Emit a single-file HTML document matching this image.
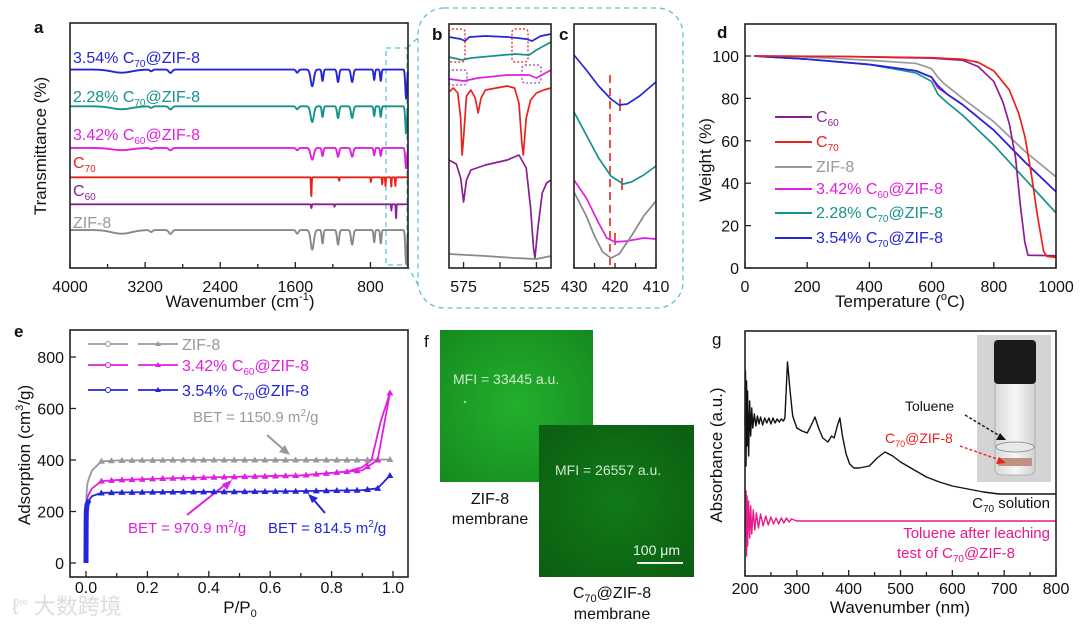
<!DOCTYPE html>
<html><head><meta charset="utf-8"><style>
html,body{margin:0;padding:0;background:#fff}
svg{display:block;font-family:"Liberation Sans","Noto Sans CJK SC",sans-serif}
</style></head><body>
<svg id="fig" width="1080" height="627" viewBox="0 0 1080 627" xmlns="http://www.w3.org/2000/svg">
<defs>
<radialGradient id="g1" cx="0.5" cy="0.5" r="0.7"><stop offset="0" stop-color="#22b02c"/><stop offset="1" stop-color="#168a1f"/></radialGradient>
<radialGradient id="g2" cx="0.5" cy="0.5" r="0.7"><stop offset="0" stop-color="#117a18"/><stop offset="1" stop-color="#0b5e11"/></radialGradient>
<linearGradient id="vial" x1="0" x2="1"><stop offset="0" stop-color="#d8d8d8"/><stop offset="0.5" stop-color="#f6f6f6"/><stop offset="1" stop-color="#d2d2d2"/></linearGradient>
</defs>
<g font-size="16" fill="#111">
<text x="34" y="33" font-size="17" font-weight="bold">a</text>
<text x="432" y="40" font-size="17" font-weight="bold">b</text>
<text x="559" y="40" font-size="17" font-weight="bold">c</text>
<text x="717" y="38" font-size="17" font-weight="bold">d</text>
<text x="14" y="337" font-size="17" font-weight="bold">e</text>
<text x="424" y="347" font-size="17">f</text>
<text x="712" y="345" font-size="17">g</text>
</g>
<g font-size="17" fill="#111" text-anchor="middle">
<text transform="translate(46,146) rotate(-90)">Transmittance (%)</text>
<text x="240" y="307">Wavenumber (cm<tspan font-size="11" dy="-7">-1</tspan><tspan dy="7">)</tspan></text>
<text transform="translate(711,160) rotate(-90)">Weight (%)</text>
<text x="900" y="307">Temperature (<tspan font-size="11" dy="-7">o</tspan><tspan dy="7">C)</tspan></text>
<text transform="translate(30,455) rotate(-90)">Adsorption (cm<tspan font-size="11" dy="-7">3</tspan><tspan dy="7">/g)</tspan></text>
<text x="240" y="613">P/P<tspan font-size="11" dy="4">0</tspan></text>
<text transform="translate(722,455) rotate(-90)">Absorbance (a.u.)</text>
<text x="900" y="613">Wavenumber (nm)</text>
</g>
<g font-size="16">
<text x="73" y="63" fill="#2424d8">3.54% C<tspan font-size="10" dy="4">70</tspan><tspan dy="-4">@ZIF-8</tspan></text>
<text x="73" y="102" fill="#15928c">2.28% C<tspan font-size="10" dy="4">70</tspan><tspan dy="-4">@ZIF-8</tspan></text>
<text x="73" y="140" fill="#e020e0">3.42% C<tspan font-size="10" dy="4">60</tspan><tspan dy="-4">@ZIF-8</tspan></text>
<text x="73" y="168" fill="#e8231e">C<tspan font-size="10" dy="4">70</tspan></text>
<text x="73" y="196" fill="#8a1f94">C<tspan font-size="10" dy="4">60</tspan></text>
<text x="73" y="228" fill="#999">ZIF-8</text>
</g>
<g fill="none" stroke="#5cc3cb" stroke-width="1.3" stroke-dasharray="5,4">
<rect x="386" y="48" width="21" height="217"/>
<rect x="418" y="8" width="265" height="300" rx="26"/>
<line x1="407" y1="48" x2="420" y2="36"/>
<line x1="407" y1="265" x2="420" y2="288"/>
</g>
<g fill="none" stroke-width="1.3" stroke-dasharray="2,2">
<rect x="449" y="29" width="16" height="33" rx="3" stroke="#e8231e"/>
<rect x="512" y="29" width="16" height="33" rx="3" stroke="#e8231e"/>
<rect x="449" y="70" width="18" height="15" rx="3" stroke="#a040a8"/>
<rect x="522" y="65" width="19" height="18" rx="3" stroke="#a040a8"/>
</g>
<line x1="610" y1="75" x2="610" y2="268" stroke="#e8231e" stroke-width="1.6" stroke-dasharray="8,5"/>
<g stroke="#e8231e" stroke-width="1.6">
<line x1="620" y1="99" x2="620" y2="111"/>
<line x1="622" y1="178" x2="622" y2="190"/>
<line x1="615" y1="233" x2="615" y2="245"/>
</g>
<g font-size="16">
<line x1="775" y1="117" x2="812" y2="117" stroke="#8a1f94" stroke-width="2"/><text x="816" y="122" fill="#8a1f94">C<tspan font-size="10" dy="4">60</tspan></text>
<line x1="775" y1="142" x2="812" y2="142" stroke="#e8231e" stroke-width="2"/><text x="816" y="147" fill="#e8231e">C<tspan font-size="10" dy="4">70</tspan></text>
<line x1="775" y1="167" x2="812" y2="167" stroke="#999" stroke-width="2"/><text x="816" y="172" fill="#999">ZIF-8</text>
<line x1="775" y1="189" x2="812" y2="189" stroke="#e020e0" stroke-width="2"/><text x="816" y="194" fill="#e020e0">3.42% C<tspan font-size="10" dy="4">60</tspan><tspan dy="-4">@ZIF-8</tspan></text>
<line x1="775" y1="213" x2="812" y2="213" stroke="#15928c" stroke-width="2"/><text x="816" y="218" fill="#15928c">2.28% C<tspan font-size="10" dy="4">70</tspan><tspan dy="-4">@ZIF-8</tspan></text>
<line x1="775" y1="238" x2="812" y2="238" stroke="#2424d8" stroke-width="2"/><text x="816" y="243" fill="#2424d8">3.54% C<tspan font-size="10" dy="4">70</tspan><tspan dy="-4">@ZIF-8</tspan></text>
</g>
<g font-size="16">
<line x1="88" y1="344" x2="178" y2="344" stroke="#999" stroke-width="1.8" stroke-dasharray="40,10"/><circle cx="108" cy="344" r="2.5" fill="#fff" stroke="#999"/><path d="M158 341 l3 5 h-6z" fill="#999"/><text x="182" y="350" fill="#999">ZIF-8</text>
<line x1="88" y1="365" x2="178" y2="365" stroke="#e020e0" stroke-width="1.8" stroke-dasharray="40,10"/><circle cx="108" cy="365" r="2.5" fill="#fff" stroke="#e020e0"/><path d="M158 362 l3 5 h-6z" fill="#e020e0"/><text x="182" y="371" fill="#e020e0">3.42% C<tspan font-size="10" dy="4">60</tspan><tspan dy="-4">@ZIF-8</tspan></text>
<line x1="88" y1="390" x2="178" y2="390" stroke="#2424d8" stroke-width="1.8" stroke-dasharray="40,10"/><circle cx="108" cy="390" r="2.5" fill="#fff" stroke="#2424d8"/><path d="M158 387 l3 5 h-6z" fill="#2424d8"/><text x="182" y="396" fill="#2424d8">3.54% C<tspan font-size="10" dy="4">70</tspan><tspan dy="-4">@ZIF-8</tspan></text>
</g>
<g font-size="15">
<text x="193" y="422" fill="#999">BET = 1150.9 m<tspan font-size="10" dy="-6">2</tspan><tspan dy="6">/g</tspan></text>
<text x="128" y="533" fill="#e020e0">BET = 970.9 m<tspan font-size="10" dy="-6">2</tspan><tspan dy="6">/g</tspan></text>
<text x="268" y="533" fill="#2424d8">BET = 814.5 m<tspan font-size="10" dy="-6">2</tspan><tspan dy="6">/g</tspan></text>
</g>
<g stroke-width="2">
<line x1="267" y1="435" x2="284" y2="450" stroke="#999"/><path d="M290 455 l-11 -3 l6 -7z" fill="#999"/>
<line x1="187" y1="515" x2="226" y2="484" stroke="#e020e0"/><path d="M232 480 l-5 10 l-5 -6z" fill="#e020e0"/>
<line x1="325" y1="513" x2="313" y2="499" stroke="#2424d8"/><path d="M308 494 l10 4 l-6 5z" fill="#2424d8"/>
</g>
<rect x="440" y="330" width="153" height="152" fill="url(#g1)"/>
<circle cx="465" cy="402" r="1.2" fill="#6f6"/>
<text x="453" y="384" font-size="14" fill="#cfe9cf">MFI = 33445 a.u.</text>
<rect x="539" y="425" width="155" height="152" fill="url(#g2)"/>
<text x="555" y="475" font-size="14" fill="#cfe9cf">MFI = 26557 a.u.</text>
<text x="633" y="555" font-size="14" fill="#e8f4e8">100 μm</text>
<line x1="637" y1="563" x2="683" y2="563" stroke="#eee" stroke-width="2"/>
<g font-size="16" fill="#111" text-anchor="middle">
<text x="490" y="504">ZIF-8</text>
<text x="490" y="524">membrane</text>
<text x="612" y="598">C<tspan font-size="11" dy="4">70</tspan><tspan dy="-4">@ZIF-8</tspan></text>
<text x="612" y="619">membrane</text>
</g>
<g>
<rect x="977" y="335" width="74" height="147" fill="#d4d4d4"/>
<rect x="995" y="345" width="40" height="130" rx="6" fill="url(#vial)" stroke="#b0b0b0"/>
<rect x="994" y="340" width="42" height="44" rx="4" fill="#1a1a1a"/>
<ellipse cx="1015" cy="447" rx="19" ry="5" fill="#e8e8e8" stroke="#999"/>
<rect x="998" y="458" width="34" height="8" fill="#c09080"/>
</g>
<text x="905" y="411" font-size="14" fill="#111">Toluene</text>
<text x="885" y="443" font-size="14" fill="#e8231e">C<tspan font-size="9" dy="4">70</tspan><tspan dy="-4">@ZIF-8</tspan></text>
<line x1="965" y1="415" x2="1000" y2="436" stroke="#111" stroke-width="1.4" stroke-dasharray="3,2"/><path d="M1006 440 l-10 0 l4 -7z" fill="#111"/>
<line x1="960" y1="446" x2="1000" y2="460" stroke="#e8231e" stroke-width="1.4" stroke-dasharray="3,2"/><path d="M1006 463 l-10 1 l3 -7z" fill="#e8231e"/>
<text x="1050" y="508" font-size="15" fill="#111" text-anchor="end">C<tspan font-size="10" dy="4">70</tspan><tspan dy="-4"> solution</tspan></text>
<text x="1050" y="538" font-size="15" fill="#e8198a" text-anchor="end">Toluene after leaching</text>
<text x="1015" y="558" font-size="15" fill="#e8198a" text-anchor="end">test of C<tspan font-size="10" dy="4">70</tspan><tspan dy="-4">@ZIF-8</tspan></text>
<text x="12" y="614" font-size="22" fill="#ddd">ℓ<tspan font-size="12" dy="-8">∞</tspan><tspan dy="8"> 大数跨境</tspan></text>
<g id="plots"></g>
</svg>
<script>
const aSeriesNames=['3.54% C70@ZIF-8','2.28% C70@ZIF-8','3.42% C60@ZIF-8','C70','C60','ZIF-8'];
const aBaselines=[81,66,49,37,26,15.5];
const zifPeaks=[[3450,1.5,150],[3135,0.8,20],[2930,1.6,25],[1580,1.5,18],[1420,8,24],[1310,5.5,12],[1145,6,15],[995,6,17],[760,5,10],[690,5.5,10],[420,14,12]];
const c70Peaks=[[1430,8,5],[1133,1.5,4],[795,2,4],[675,3,4],[640,3.5,4],[578,4,4],[535,3.5,4]];
const c60Peaks=[[1429,1.5,5],[1183,1,4],[577,2.5,4],[527,6,4]];
const aZifScale=[0.85,0.8,0.6,0,0,1];
const aTicks=[4000,3200,2400,1600,800];
const aMinor=[3600,2800,2000,1200];
const bBlue=[[585,231],[577,229],[574,227],[571,231],[560,232],[545,231],[532,229],[528,227],[522,232],[515,234]];
const bTeal=[[585,211],[576,208],[570,210],[555,212],[540,214],[530,213],[525,218],[515,226]];
const bMag=[[585,189],[575,187],[565,190],[545,193],[530,193],[525,190],[515,198]];
const bRed=[[585,176],[582,180],[579,175],[577,150],[576,113],[575,130],[573,172],[570,178],[567,170],[565,155],[563,170],[560,178],[545,182],[540,180],[537,165],[535,125],[534,113],[532,150],[529,168],[525,175],[520,178],[515,180]];
const bPurple=[[585,108],[580,104],[577,90],[575,66],[573,88],[570,98],[560,103],[545,108],[537,113],[532,100],[529,60],[527,20],[526,10],[524,40],[521,75],[518,85],[515,88]];
const bGray=[[585,14],[560,12],[540,10],[525,9],[515,12]];
const bTicks=[575,550,525];
const cBlue=[[430,213],[427,198],[424,182],[421,169],[419,163],[417,164],[414,172],[412,179],[410,186]];
const cTeal=[[430,156],[427,133],[424,110],[421,92],[418,84],[416,86],[413,93],[410,102]];
const cMag=[[430,88],[427,70],[424,45],[422,30],[420,26],[417,27],[413,30],[410,29]];
const cGray=[[430,76],[427,52],[425,32],[423,16],[421,10],[419,14],[416,32],[413,52],[410,67]];
const cTicks=[430,425,420,415,410];
const dC60=[[30,100],[300,99.8],[600,99],[700,98],[750,95],[800,88],[830,78],[850,68],[870,52],[885,30],[900,12],[910,6],[1000,5.8]];
const dC70=[[30,100],[300,99.8],[600,99.2],[700,98.5],[750,97],[800,93],[850,84],[880,73],[900,62],[920,45],[940,25],[960,8],[970,5.5],[1000,5]];
const dZif=[[30,100],[200,99.5],[400,98],[550,96.5],[600,94],[620,90],[640,87],[700,80],[800,69],[900,55],[1000,43]];
const dC60Zif=[[30,100],[200,98.5],[400,96],[550,93],[600,90],[620,85],[650,82],[700,77],[800,65],[900,50],[1000,36]];
const dTeal=[[30,100],[200,98.5],[400,96],[550,92],[600,88],[620,82],[650,78],[700,72],[800,58],[900,42],[1000,26]];
const dBlue=[[30,100],[200,98.5],[400,96],[550,93],[600,90],[620,86],[650,82],[700,77],[800,65],[900,50],[1000,36]];
const dXTicks=[0,200,400,600,800,1000];
const dYTicks=[0,20,40,60,80,100];
const eP=[0,0.0005,0.001,0.003,0.005,0.01,0.02,0.05,0.1,0.3,0.5,0.7,0.9,0.95,0.99];
const eZif=[0,200,250,290,310,330,360,395,398,400,400,400,400,401,402];
const eMag=[0,150,220,245,255,270,290,318,322,330,335,340,360,400,660];
const eBlue=[0,150,200,225,232,245,260,272,274,276,277,279,283,290,340];
const eMagDesP=[0.99,0.96,0.93,0.9,0.85];
const eMagDes=[660,550,400,372,355];
const eMarkerP=[0.05,0.083,0.117,0.15,0.183,0.217,0.25,0.283,0.317,0.35,0.383,0.417,0.45,0.483,0.517,0.55,0.583,0.617,0.65,0.683,0.717,0.75,0.783,0.817,0.85,0.883,0.917,0.95,0.99];
const eXTicks=[0,0.2,0.4,0.6,0.8,1.0];
const eXLabels=['0.0','0.2','0.4','0.6','0.8','1.0'];
const eYTicks=[0,200,400,600,800];
const gBlack=[[200,150],[201,205],[202,110],[203,195],[204,130],[205,185],[207,120],[209,175],[211,140],[213,168],[215,148],[218,162],[221,150],[224,160],[227,152],[230,159],[234,151],[238,158],[242,153],[246,158],[250,152],[254,158],[258,153],[262,157],[266,154],[270,157],[274,155],[277,158],[282,214],[287,185],[292,160],[300,148],[310,145],[320,143],[327,150],[335,159],[342,148],[350,138],[360,134],[367,140],[372,138],[378,150],[383,158],[388,140],[395,122],[402,112],[410,108],[420,108],[440,110],[455,118],[470,124],[485,120],[500,114],[520,108],[550,99],[575,94],[600,90],[630,87],[660,84],[690,82],[800,82]];
const gMag=[[200,55],[201,40],[202,85],[203,20],[204,80],[205,30],[207,75],[209,38],[211,70],[213,42],[216,66],[219,46],[222,63],[226,48],[230,62],[235,50],[240,60],[245,51],[250,59],[255,52],[260,58],[265,52],[270,58],[275,53],[280,58],[285,54],[290,57],[300,55],[800,55]];
const gTicks=[200,300,400,500,600,700,800];

const NS='http://www.w3.org/2000/svg';
const root=document.getElementById('plots');
function mk(tag,parent){const e=document.createElementNS(NS,tag);parent.appendChild(e);return e;}
function sc(d0,d1,r0,r1){return v=>r0+(v-d0)*(r1-r0)/(d1-d0);}
function pathD(pts,xs,ys){return pts.map((p,i)=>(i?'L':'M')+xs(p[0]).toFixed(2)+' '+ys(p[1]).toFixed(2)).join('');}
function line(pts,xs,ys,color,w,name){
  const p=mk('path',root);
  p.setAttribute('d',pathD(pts,xs,ys));p.setAttribute('fill','none');p.setAttribute('stroke',color);p.setAttribute('stroke-width',w);p.setAttribute('stroke-linejoin','round');
  
  
  return p;}
function box(x,y,w,h,name){
  const r=mk('rect',root);r.setAttribute('x',x);r.setAttribute('y',y);r.setAttribute('width',w);r.setAttribute('height',h);r.setAttribute('fill','none');r.setAttribute('stroke','#222');r.setAttribute('stroke-width','1.6');
  
  }
function tick(x1,y1,x2,y2){const l=mk('line',root);l.setAttribute('x1',x1);l.setAttribute('y1',y1);l.setAttribute('x2',x2);l.setAttribute('y2',y2);l.setAttribute('stroke','#222');l.setAttribute('stroke-width','1.3');
  
  }
function label(x,y,txt,anchor){const t=mk('text',root);t.setAttribute('x',x);t.setAttribute('y',y);t.setAttribute('font-size','16');t.setAttribute('fill','#111');t.setAttribute('text-anchor',anchor||'middle');t.textContent=txt;
  
  }
function interp(xsArr,ysArr,x){for(let i=1;i<xsArr.length;i++){if(x<=xsArr[i]){const t=(x-xsArr[i-1])/(xsArr[i]-xsArr[i-1]);return ysArr[i-1]+t*(ysArr[i]-ysArr[i-1]);}}return ysArr[ysArr.length-1];}

const xa=sc(4000,400,70,408), ya=sc(0,100,268,23);
const aColors=['#2424d8','#15928c','#e020e0','#e8231e','#8a1f94','#888'];
function dips(w,peaks,f){let s=0;for(const p of peaks){const z=(w-p[0])/p[2];s+=f*p[1]*Math.exp(-z*z);}return s;}
aBaselines.forEach((b,i)=>{
  const pts=[];
  for(let w=4000;w>=400;w-=3){
    let v=b-dips(w,zifPeaks,aZifScale[i]);
    if(i===3)v-=dips(w,c70Peaks,1);
    if(i===4)v-=dips(w,c60Peaks,1);
    pts.push([w,v]);}
  line(pts,xa,ya,aColors[i],1.9,'a-series-'+aSeriesNames[i].replace(/[^a-z0-9]+/gi,'-').toLowerCase());
});
box(70,23,338,245,'a-plot-area');
aTicks.forEach(t=>{tick(xa(t),268,xa(t),262);label(xa(t),292,String(t));});
aMinor.forEach(t=>tick(xa(t),268,xa(t),264));

const xb=sc(585,515,449,551), yb=v=>268-v;
[[bBlue,'#2424d8','blue'],[bTeal,'#15928c','teal'],[bMag,'#e020e0','magenta'],[bRed,'#e8231e','c70'],[bPurple,'#8a1f94','c60'],[bGray,'#888','zif8']].forEach(s=>line(s[0],xb,yb,s[1],1.7,'b-series-'+s[2]));
box(449,24,102,244,'b-plot-area');
bTicks.forEach(t=>tick(xb(t),268,xb(t),262));
label(xb(575),292,'575');label(xb(525),292,'525');

const xc=sc(430,410,574,656), yc=v=>268-v;
[[cBlue,'#2424d8','blue'],[cTeal,'#15928c','teal'],[cMag,'#e020e0','magenta'],[cGray,'#888','zif8']].forEach(s=>line(s[0],xc,yc,s[1],1.7,'c-series-'+s[2]));
box(574,24,82,244,'c-plot-area');
cTicks.forEach(t=>tick(xc(t),268,xc(t),263));
label(xc(430),292,'430');label(xc(420),292,'420');label(xc(410),292,'410');

const xd=sc(0,1000,745,1056), yd=sc(0,100,268,56);
[[dZif,'#999','zif8'],[dC60Zif,'#e020e0','c60-zif8'],[dTeal,'#15928c','c70-zif8-228'],[dBlue,'#2424d8','c70-zif8-354'],[dC60,'#8a1f94','c60'],[dC70,'#e8231e','c70']].forEach(s=>line(s[0],xd,yd,s[1],1.7,'d-series-'+s[2]));
box(745,24,311,244,'d-plot-area');
dXTicks.forEach(t=>{tick(xd(t),268,xd(t),262);label(xd(t),292,String(t));});
dYTicks.forEach(t=>{tick(745,yd(t),751,yd(t));label(739,yd(t)+6,String(t),'end');});

const xe=sc(0,1,86,393), ye=sc(0,800,563,357);
function zipPts(xsA,ysA){return xsA.map((x,i)=>[x,ysA[i]]);}
line(zipPts(eP,eZif),xe,ye,'#999',1.8,'e-series-zif8');
line(zipPts(eP,eMag),xe,ye,'#e020e0',1.8,'e-series-c60-zif8');
line(zipPts(eMagDesP,eMagDes),xe,ye,'#e020e0',1.8,'e-series-c60-zif8-desorption');
line(zipPts(eP.slice(0,6),eBlue.slice(0,6)),xe,ye,'#2424d8',5,'e-series-c70-zif8-lowp');
line(zipPts(eP,eBlue),xe,ye,'#2424d8',1.8,'e-series-c70-zif8');
[[eZif,'#999','zif8'],[eMag,'#e020e0','c60-zif8'],[eBlue,'#2424d8','c70-zif8']].forEach(s=>{
  eMarkerP.forEach(p=>{
    const v=interp(eP,s[0],p);const cx=xe(p),cy=ye(v);
    const m=mk('path',root);m.setAttribute('d',`M${cx} ${cy-3.5}l3.5 6h-7z`);m.setAttribute('fill',s[1]);
    
    
  });});
box(70,330,338,247,'e-plot-area');
eXTicks.forEach((t,i)=>{tick(xe(t),577,xe(t),571);label(xe(t),593,eXLabels[i]);});
[0.1,0.3,0.5,0.7,0.9].forEach(t=>tick(xe(t),577,xe(t),573));
eYTicks.forEach(t=>{tick(70,ye(t),76,ye(t));label(64,ye(t)+6,String(t),'end');});

const xg=sc(200,800,745,1056), yg=v=>576-v;
line(gBlack,xg,yg,'#111',1.4,'g-series-c70-solution');
line(gMag,xg,yg,'#e8198a',1.4,'g-series-leaching-test');
box(745,331,311,245,'g-plot-area');
gTicks.forEach(t=>{tick(xg(t),576,xg(t),570);label(xg(t),594,String(t));});
[250,350,450,550,650,750].forEach(t=>tick(xg(t),576,xg(t),572));
</script>
</body></html>
